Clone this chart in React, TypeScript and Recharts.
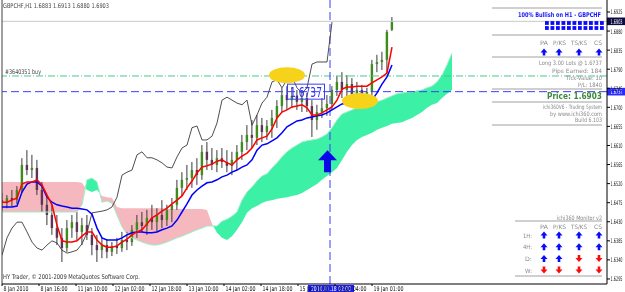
import React from 'react';
import { ComposedChart, Line, Area, Bar, Scatter, XAxis, YAxis, ReferenceLine, ReferenceDot } from 'recharts';

// ---- price data (GBPCHF H1, one slot = ~2 hourly bars) ----
const opens = [1.6481,1.6474,1.6486,1.6481,1.6505,1.6564,1.6552,1.6557,1.6505,1.6470,
 1.6446,1.6415,1.6392,1.6368,1.6415,1.6429,1.6406,1.6422,1.6399,1.6375,
 1.6363,1.6375,1.6359,1.6373,1.6368,1.6387,1.6382,1.6411,1.6429,1.6420,
 1.6439,1.6429,1.6446,1.6434,1.6458,1.6470,1.6510,1.6529,1.6533,1.6552,
 1.6540,1.6595,1.6576,1.6564,1.6580,1.6571,1.6562,1.6576,1.6595,1.6618,
 1.6635,1.6628,1.6658,1.6642,1.6656,1.6675,1.6703,1.6729,1.6717,1.6727,
 1.6713,1.6722,1.6703,1.6670,1.6689,1.6698,1.6708,1.6741,1.6760,1.6741,
 1.6755,1.6731,1.6741,1.6722,1.6736,1.6802,1.6807,1.6812,1.6883];
const highs = [1.6498,1.6493,1.6505,1.6514,1.6580,1.6599,1.6588,1.6576,1.6524,1.6493,
 1.6470,1.6446,1.6415,1.6434,1.6446,1.6453,1.6439,1.6446,1.6415,1.6399,
 1.6392,1.6387,1.6382,1.6392,1.6406,1.6406,1.6422,1.6446,1.6453,1.6458,
 1.6470,1.6462,1.6481,1.6470,1.6486,1.6529,1.6547,1.6564,1.6571,1.6580,
 1.6611,1.6618,1.6604,1.6599,1.6604,1.6599,1.6595,1.6611,1.6635,1.6658,
 1.6670,1.6682,1.6675,1.6670,1.6694,1.6717,1.6746,1.6750,1.6746,1.6741,
 1.6736,1.6734,1.6717,1.6706,1.6722,1.6729,1.6750,1.6774,1.6783,1.6776,
 1.6769,1.6760,1.6753,1.6746,1.6812,1.6824,1.6831,1.6883,1.6913];
const lows = [1.6458,1.6462,1.6467,1.6472,1.6498,1.6540,1.6533,1.6493,1.6453,1.6422,
 1.6399,1.6375,1.6335,1.6359,1.6392,1.6387,1.6375,1.6387,1.6351,1.6335,
 1.6344,1.6344,1.6349,1.6354,1.6359,1.6363,1.6373,1.6392,1.6406,1.6399,
 1.6411,1.6406,1.6415,1.6420,1.6429,1.6458,1.6491,1.6505,1.6510,1.6517,
 1.6529,1.6552,1.6552,1.6547,1.6557,1.6547,1.6540,1.6552,1.6576,1.6599,
 1.6604,1.6611,1.6618,1.6623,1.6628,1.6651,1.6689,1.6694,1.6698,1.6694,
 1.6689,1.6689,1.6630,1.6647,1.6675,1.6680,1.6694,1.6727,1.6722,1.6717,
 1.6713,1.6708,1.6703,1.6708,1.6727,1.6783,1.6788,1.6781,1.6880];
const closes = [1.6474,1.6486,1.6481,1.6505,1.6564,1.6552,1.6557,1.6505,1.6470,1.6446,
 1.6415,1.6392,1.6368,1.6415,1.6429,1.6406,1.6422,1.6399,1.6375,1.6363,
 1.6375,1.6359,1.6373,1.6368,1.6387,1.6382,1.6411,1.6429,1.6420,1.6439,
 1.6429,1.6446,1.6434,1.6458,1.6470,1.6510,1.6529,1.6533,1.6552,1.6540,
 1.6595,1.6576,1.6564,1.6580,1.6571,1.6562,1.6576,1.6595,1.6618,1.6635,
 1.6628,1.6658,1.6642,1.6656,1.6675,1.6703,1.6729,1.6717,1.6727,1.6713,
 1.6722,1.6703,1.6670,1.6689,1.6698,1.6708,1.6741,1.6760,1.6741,1.6755,
 1.6731,1.6741,1.6722,1.6736,1.6802,1.6807,1.6812,1.6878,1.6903];

const tenkan = [1.6476,1.6476,1.6481,1.6486,1.6519,1.6524,1.6524,1.6529,1.6517,1.6493,
 1.6470,1.6422,1.6385,1.6382,1.6382,1.6385,1.6396,1.6406,1.6406,1.6387,
 1.6375,1.6370,1.6370,1.6373,1.6382,1.6389,1.6399,1.6406,1.6411,1.6425,
 1.6439,1.6446,1.6455,1.6462,1.6472,1.6481,1.6491,1.6510,1.6526,1.6545,
 1.6559,1.6562,1.6566,1.6573,1.6576,1.6569,1.6564,1.6576,1.6585,1.6592,
 1.6604,1.6623,1.6628,1.6632,1.6649,1.6675,1.6689,1.6694,1.6701,1.6703,
 1.6706,1.6699,1.6682,1.6682,1.6687,1.6694,1.6701,1.6717,1.6743,1.6748,
 1.6748,1.6750,1.6750,1.6750,1.6758,1.6765,1.6772,1.6781,1.6842];
const kijun = [1.6465,1.6465,1.6465,1.6467,1.6500,1.6519,1.6524,1.6524,1.6514,1.6488,
 1.6476,1.6470,1.6467,1.6465,1.6462,1.6462,1.6460,1.6458,1.6448,1.6415,
 1.6392,1.6387,1.6387,1.6387,1.6392,1.6399,1.6404,1.6406,1.6406,1.6404,
 1.6404,1.6406,1.6411,1.6415,1.6420,1.6434,1.6453,1.6472,1.6493,1.6505,
 1.6514,1.6522,1.6524,1.6529,1.6536,1.6540,1.6547,1.6552,1.6559,1.6564,
 1.6576,1.6599,1.6611,1.6614,1.6621,1.6628,1.6640,1.6654,1.6661,1.6668,
 1.6670,1.6675,1.6677,1.6680,1.6682,1.6687,1.6694,1.6701,1.6708,1.6710,
 1.6710,1.6710,1.6710,1.6713,1.6717,1.6734,1.6755,1.6772,1.6800];
const chikou = [1.6351,1.6392,1.6415,1.6429,1.6429,1.6406,1.6382,1.6368,1.6363,1.6375,
 1.6385,1.6380,1.6363,1.6356,1.6359,1.6363,1.6378,1.6404,1.6451,1.6453,
 1.6455,1.6458,1.6465,1.6488,1.6540,1.6547,1.6552,1.6588,1.6595,1.6581,
 1.6581,1.6576,1.6569,1.6559,1.6557,1.6583,1.6604,1.6611,1.6652,1.6656,
 1.6623,1.6623,1.6632,1.6663,1.6717,1.6724,1.6717,1.6710,1.6706,1.6717,
 1.6658,1.6682,1.6710,1.6724,1.6760,1.6765,1.6746,1.6765,1.6772,1.6746,
 1.6734,1.6746,1.6802,1.6807,1.6807,1.6807,1.6901];
const senkouA = [1.6453,1.6453,1.6453,1.6453,1.6453,1.6453,1.6453,1.6453,1.6453,1.6453,
 1.6453,1.6453,1.6453,1.6453,1.6453,1.6453,1.6470,1.6529,1.6533,1.6524,
 1.6476,1.6479,1.6474,1.6446,1.6418,1.6401,1.6392,1.6387,1.6382,1.6378,
 1.6375,1.6375,1.6378,1.6382,1.6387,1.6392,1.6396,1.6401,1.6406,1.6411,
 1.6415,1.6420,1.6420,1.6420,1.6431,1.6436,1.6443,1.6453,1.6481,1.6500,
 1.6512,1.6526,1.6538,1.6543,1.6557,1.6569,1.6583,1.6595,1.6604,1.6611,
 1.6618,1.6621,1.6623,1.6625,1.6630,1.6637,1.6652,1.6670,1.6684,1.6689,
 1.6694,1.6699,1.6703,1.6706,1.6710,1.6713,1.6717,1.6722,1.6727,1.6732,
 1.6734,1.6736,1.6736,1.6739,1.6741,1.6746,1.6750,1.6760,1.6776,1.6800,
 1.6828];
const senkouB = [1.6524,1.6524,1.6524,1.6524,1.6524,1.6524,1.6524,1.6524,1.6524,1.6524,
 1.6524,1.6524,1.6524,1.6524,1.6524,1.6524,1.6522,1.6505,1.6500,1.6505,
 1.6491,1.6488,1.6486,1.6465,1.6462,1.6462,1.6462,1.6462,1.6462,1.6462,
 1.6462,1.6462,1.6462,1.6460,1.6460,1.6460,1.6460,1.6460,1.6460,1.6460,
 1.6460,1.6458,1.6425,1.6404,1.6392,1.6387,1.6396,1.6411,1.6429,1.6451,
 1.6462,1.6467,1.6474,1.6479,1.6481,1.6484,1.6486,1.6488,1.6491,1.6493,
 1.6498,1.6505,1.6512,1.6519,1.6529,1.6538,1.6547,1.6557,1.6576,1.6595,
 1.6611,1.6623,1.6630,1.6635,1.6640,1.6647,1.6652,1.6656,1.6661,1.6663,
 1.6665,1.6670,1.6675,1.6682,1.6689,1.6699,1.6706,1.6710,1.6722,1.6732,
 1.6741];

const yTicks = [1.6295,1.6340,1.6385,1.6430,1.6475,1.6520,1.6565,1.6610,1.6655,1.6700,1.6745,1.6790,1.6835,1.6880,1.6925];
const timeTicks = [0, 7.4, 14.8, 22.2, 29.6, 37, 44.4, 51.8, 59.2, 66.6, 74];
const timeLabels = ['8 Jan 2010','8 Jan 16:00','11 Jan 10:00','12 Jan 02:00','12 Jan 18:00','13 Jan 10:00','14 Jan 02:00','14 Jan 18:00','15 Jan 10:00','18 Jan 04:00','19 Jan 01:00'];
const timeLabelW = [25, 27, 30, 30, 30, 30, 30, 30, 30, 30, 30];

const bidPrice = 1.6903;
const orderPrice = 1.6737;
const buyLinePrice = 1.6774;
const crossSlot = 65.6;
const crossLabel = '2010.01.18 02:00';
const highlightZones = [{ i: 57, v: 1.6776 }, { i: 71.6, v: 1.6715 }];

const upperSignals = [1, 1, 1, 1];
const monitorRows = ['1H:', '4H:', 'D:', 'W:'];
const monitorSignals = [[1, 1, 1, 1], [1, 1, 1, 1], [1, 1, -1, -1], [-1, -1, -1, -1]];
const signalCols = ['PA', 'P/KS', 'TS/KS', 'CS'];

// ---- styling ----
const W = 625, H = 292;
const FONT = '"DejaVu Sans", Verdana, sans-serif';
const PINK = '#f6b8bf';
const GREEN = '#3cf0a6';
const WICK = '#383838';
const BULL = '#3f8c1e';
const BEAR = '#5e3654';

const rows = senkouA.map((a, i) => {
  const r: Record<string, any> = { i, cloud: [a, senkouB[i]], spanA: a };
  if (i < closes.length) {
    r.tenkan = tenkan[i]; r.kijun = kijun[i];
    r.candle = [lows[i], highs[i]];
    r.o = opens[i]; r.h = highs[i]; r.l = lows[i]; r.c = closes[i];
  }
  if (i < chikou.length) r.chikou = chikou[i];
  return r;
});

const cloudStops = (() => {
  const n = senkouA.length - 1;
  const stops: { off: number; color: string }[] = [];
  let cur = senkouB[0] > senkouA[0] ? PINK : GREEN;
  stops.push({ off: 0, color: cur });
  for (let i = 0; i < n; i++) {
    const d0 = senkouB[i] - senkouA[i];
    const d1 = senkouB[i + 1] - senkouA[i + 1];
    if ((d0 > 0) !== (d1 > 0)) {
      const off = (i + d0 / (d0 - d1)) / n;
      stops.push({ off, color: cur });
      cur = d1 > 0 ? PINK : GREEN;
      stops.push({ off, color: cur });
    }
  }
  stops.push({ off: 1, color: cur });
  return stops;
})();

const Candle = (p: any) => {
  const { x, y, width, height, payload } = p;
  if (!payload || payload.h == null) return null;
  const top = Math.min(y, y + height);
  const hh = Math.abs(height);
  const span = payload.h - payload.l || 1e-9;
  const py = (v: number) => top + ((payload.h - v) / span) * hh;
  const cx = x + width / 2;
  const bull = payload.c >= payload.o;
  const bt = py(Math.max(payload.o, payload.c));
  const bb = py(Math.min(payload.o, payload.c));
  return (
    <g>
      <line x1={cx} x2={cx} y1={top} y2={top + hh} stroke={WICK} strokeWidth={1} />
      <rect x={cx - 1.2} y={bt} width={2.4} height={Math.max(1, bb - bt)} fill={bull ? BULL : BEAR} />
    </g>
  );
};

const T = ({ x, y, w, s = 6, fill = '#8a8a8a', bold = false, children }: any) => (
  <text x={x} y={y} fontSize={s} fontFamily={FONT} fill={fill} fontWeight={bold ? 'bold' : 'normal'}
    dominantBaseline="central" textLength={w} lengthAdjust="spacingAndGlyphs">{children}</text>
);

const XTick = (p: any) => {
  const idx = timeTicks.indexOf(p.payload.value);
  if (idx < 0) return null;
  return <T x={p.x + 1.5} y={288.5} w={timeLabelW[idx]} s={6.5} fill="#111">{timeLabels[idx]}</T>;
};

const YTick = (p: any) => (
  <T x={610.5} y={p.y} w={12} s={6.3} fill="#111">{Number(p.payload.value).toFixed(4)}</T>
);

const PriceTag = (p: any) => {
  const vb = p.viewBox || {};
  const x = (vb.x || 0) + (vb.width || 0);
  const y = vb.y || 0;
  return (
    <g>
      <rect x={x} y={y - 3.8} width={18} height={7.6} fill={p.bg} />
      <T x={x + 3.5} y={y} w={12} s={6.3} fill="#fff">{p.text}</T>
    </g>
  );
};

const TimeTag = (p: any) => {
  const vb = p.viewBox || {};
  const cx = vb.x || 0;
  const yb = (vb.y || 0) + (vb.height || 0);
  return (
    <g>
      <rect x={cx - 22} y={yb + 1} width={46} height={8} fill="#1c1cf4" />
      <T x={cx - 19} y={yb + 5} w={40} s={6.5} fill="#fff">{p.text}</T>
    </g>
  );
};

const Zone = (p: any) => (
  <ellipse cx={p.cx} cy={p.cy} rx={18} ry={8} fill="#f6d21a" style={{ mixBlendMode: 'multiply' }} />
);

const Arrow = ({ x, y, up }: any) => {
  const c = up ? '#0a0aff' : '#ff0a0a';
  const d = up
    ? `M${x - 3.5},${y + 0.5} L${x},${y - 3.5} L${x + 3.5},${y + 0.5} L${x + 1.3},${y + 0.5} L${x + 1.3},${y + 3.5} L${x - 1.3},${y + 3.5} L${x - 1.3},${y + 0.5} Z`
    : `M${x - 3.5},${y - 0.5} L${x},${y + 3.5} L${x + 3.5},${y - 0.5} L${x + 1.3},${y - 0.5} L${x + 1.3},${y - 3.5} L${x - 1.3},${y - 3.5} L${x - 1.3},${y - 0.5} Z`;
  return <path d={d} fill={c} />;
};

const colX = [544, 559, 579, 599];
const Sep = ({ y, x1 = 492 }: any) => <line x1={x1} x2={602} y1={y} y2={y} stroke="#a0a0a0" strokeWidth={1} />;

const Header = ({ y }: any) => (
  <g>
    <T x={540} y={y} w={8}>{signalCols[0]}</T>
    <T x={553} y={y} w={13}>{signalCols[1]}</T>
    <T x={571} y={y} w={16}>{signalCols[2]}</T>
    <T x={594} y={y} w={8}>{signalCols[3]}</T>
  </g>
);

export default function App() {
  return (
    <div style={{ position: 'absolute', left: 0, top: 0, width: W, height: H, background: '#fff', overflow: 'hidden' }}>
      <ComposedChart width={W} height={H} data={rows} margin={{ top: 0, right: 0, bottom: 0, left: 2 }}>
        <defs>
          <linearGradient id="cloudFill" x1="0" y1="0" x2="1" y2="0">
            {cloudStops.map((s, k) => <stop key={k} offset={s.off} stopColor={s.color} />)}
          </linearGradient>
        </defs>
        <XAxis dataKey="i" type="number" domain={[0, 121]} ticks={timeTicks} interval={0} allowDataOverflow
          height={8} tickSize={2} tickMargin={0} tick={<XTick />} axisLine={{ stroke: '#000' }} tickLine={{ stroke: '#000' }} />
        <YAxis orientation="right" type="number" width={18} domain={[1.62831, 1.69533]} ticks={yTicks} interval={0}
          allowDataOverflow tickSize={3} tickMargin={1} tick={<YTick />} axisLine={{ stroke: '#000' }} tickLine={{ stroke: '#000' }} />
        <Area dataKey="cloud" type="linear" stroke="none" fill="url(#cloudFill)" fillOpacity={1} isAnimationActive={false} />
        <Line dataKey="spanA" type="linear" stroke="#9cefc6" strokeWidth={1} dot={false} isAnimationActive={false} />
        <ReferenceLine y={bidPrice} stroke="#c8c8c8" strokeWidth={1} label={<PriceTag text="1.6903" bg="#0c0c40" />} />
        <ReferenceLine y={buyLinePrice} stroke="#46c88c" strokeWidth={1} strokeDasharray="7 2 1 2" />
        <ReferenceLine y={orderPrice} stroke="#3c3cff" strokeWidth={1} strokeDasharray="8 4" label={<PriceTag text="1.6737" bg="#2a2aff" />} />
        <ReferenceLine x={crossSlot} stroke="#3c3cff" strokeWidth={1} strokeDasharray="8 4" label={<TimeTag text={crossLabel} />} />
        <ReferenceLine x={0} stroke="#404040" strokeWidth={1} />
        <Line dataKey="chikou" type="linear" stroke="#3a3a3a" strokeWidth={0.9} dot={false} isAnimationActive={false} />
        <Bar dataKey="candle" barSize={3} shape={<Candle />} isAnimationActive={false} />
        <Line dataKey="kijun" type="linear" stroke="#0000ff" strokeWidth={1.5} dot={false} isAnimationActive={false} />
        <Line dataKey="tenkan" type="linear" stroke="#ff0000" strokeWidth={1.5} dot={false} isAnimationActive={false} />
        <Scatter data={highlightZones} dataKey="v" shape={<Zone />} isAnimationActive={false} />
        <ReferenceDot x={60.8} y={orderPrice} r={1} shape={(p: any) => (
          <g>
            <rect x={p.cx - 18.5} y={p.cy - 7.5} width={37} height={15} fill="none" stroke="#3c3cff" strokeWidth={1} />
            <text x={p.cx - 16} y={p.cy + 0.5} fontSize={14} fontFamily={FONT} fill="#3030ff" dominantBaseline="central"
              textLength={32} lengthAdjust="spacingAndGlyphs">1.6737</text>
          </g>
        )} />
        <ReferenceDot x={65.1} y={1.6573} r={1} shape={(p: any) => (
          <path d={`M${p.cx - 9.5},${p.cy - 1} L${p.cx},${p.cy - 11} L${p.cx + 9.5},${p.cy - 1} L${p.cx + 3.5},${p.cy - 1} L${p.cx + 3.5},${p.cy + 11} L${p.cx - 3.5},${p.cy + 11} L${p.cx - 3.5},${p.cy - 1} Z`} fill="#0808e8" />
        )} />
      </ComposedChart>
      <svg style={{ position: 'absolute', left: 0, top: 0, pointerEvents: 'none' }} width={W} height={H}>
        <T x={3} y={6} w={106} s={6.5} fill="#444">GBPCHF,H1  1.6883 1.6913 1.6880 1.6903</T>
        <T x={5} y={72} w={36} s={6.5} fill="#444">#3640351 buy</T>
        <T x={3} y={277} w={137} s={6.5} fill="#333">HY Trader, © 2001-2009 MetaQuotes Software Corp.</T>

        <Sep y={8} />
        <T x={518} y={15} w={83} s={6.5} bold fill="#1414ff">100% Bullish on H1 - GBPCHF</T>
        {[23, 28].map((yy) => Array.from({ length: 11 }).map((_, k) => (
          <rect key={`${yy}-${k}`} x={545 + k * 5.5} y={yy - 1.9} width={3.8} height={3.8} fill="#0a0aff" />
        )))}
        <Sep y={35} />
        <Header y={42} />
        {upperSignals.map((s, k) => <Arrow key={k} x={colX[k]} y={52} up={s > 0} />)}
        <Sep y={57} />
        <T x={539} y={62} w={63}>Long 3.00 Lots @ 1.6737</T>
        <T x={552} y={70} w={50}>Pips Earned: 184</T>
        <T x={566} y={77} w={36}>Tick-Value: 10</T>
        <T x={578} y={84} w={24}>P/L: 1840</T>
        <Sep y={89} />
        <T x={547} y={95.5} w={55} s={9} bold fill="#3b8a3b">Price: 1.6903</T>
        <Sep y={102} />
        <T x={543} y={106.5} w={59}>ichi360V6 - Trading System</T>
        <T x={550} y={113} w={52}>by www.ichi360.com</T>
        <T x={575} y={119.5} w={27}>Build 6.103</T>
        <Sep y={125} />

        <T x={557} y={217} w={45}>ichi360 Monitor v2</T>
        <Sep y={221} x1={515} />
        <Header y={226} />
        {monitorRows.map((lab, r) => (
          <g key={lab}>
            <T x={lab.length > 2 ? 523 : 525} y={235 + r * 11.7} w={lab.length > 2 ? 9 : 7}>{lab}</T>
            {monitorSignals[r].map((s, k) => <Arrow key={k} x={colX[k]} y={235 + r * 11.7} up={s > 0} />)}
          </g>
        ))}
        <Sep y={276} x1={515} />
      </svg>
    </div>
  );
}
